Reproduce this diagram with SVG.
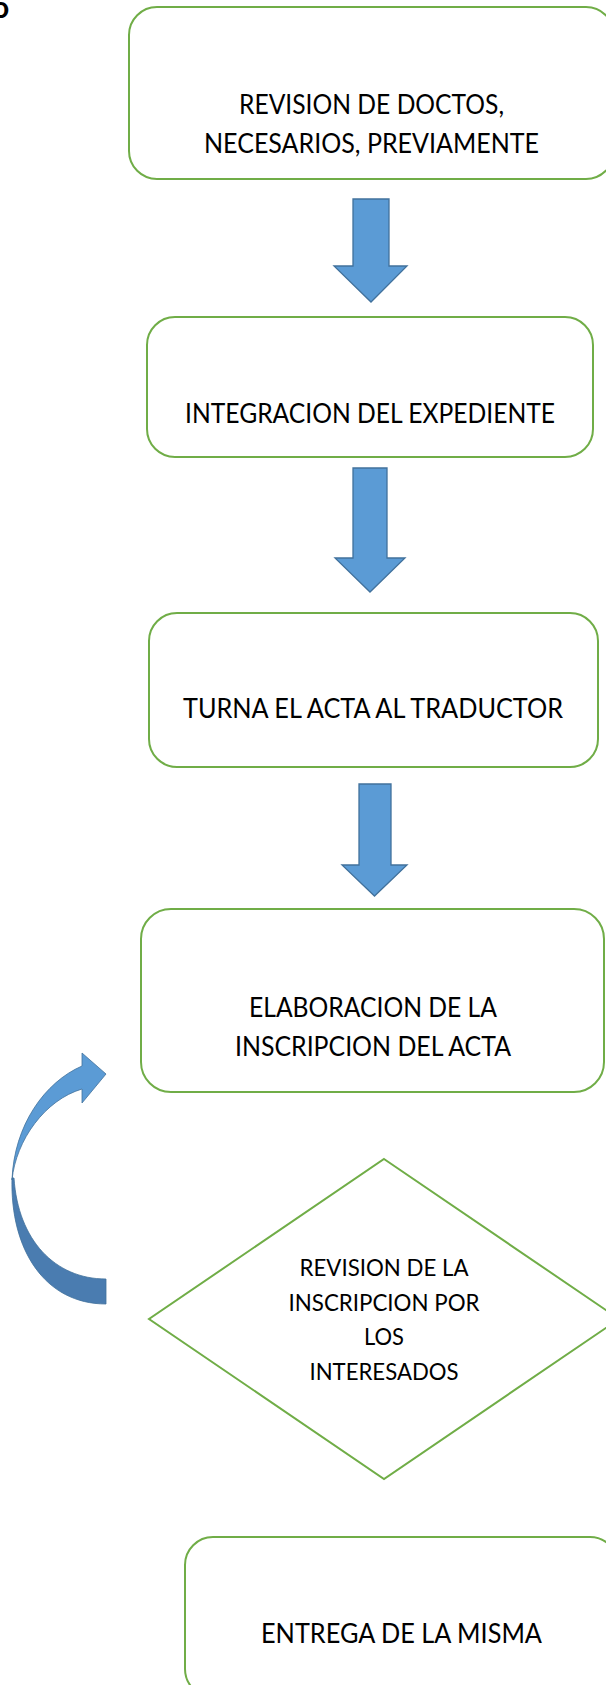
<svg xmlns="http://www.w3.org/2000/svg" width="606" height="1685" viewBox="0 0 606 1685">
<style>
.box{fill:#FFFFFF;stroke:#70AD47;stroke-width:2}
.t{font-family:Lato,"Open Sans",sans-serif;font-size:26px;fill:#000000;text-anchor:middle}
.ts{font-family:Lato,"Open Sans",sans-serif;font-size:23.5px;fill:#000000;text-anchor:middle}
.arr{fill:#5B9BD5;stroke:#41719C;stroke-width:1.3;stroke-linejoin:miter}
.carrUp{fill:#5B9BD5;stroke:#41719C;stroke-width:0.8}
.carrDn{fill:#4A7CB0;stroke:#41719C;stroke-width:0.8}
</style>
<rect width="606" height="1685" fill="#FFFFFF"/>
<text x="-8" y="18" font-family="Lato,sans-serif" font-weight="bold" font-size="30" fill="#000000">o</text>
<g id="n1">
<rect class="box" x="129" y="7" width="485" height="172" rx="28"/>
<text class="t" x="371.5" y="114" textLength="265" lengthAdjust="spacingAndGlyphs">REVISION DE DOCTOS,</text>
<text class="t" x="371.5" y="153" textLength="335" lengthAdjust="spacingAndGlyphs">NECESARIOS, PREVIAMENTE</text>
</g>
<g id="n2">
<rect class="box" x="147" y="317" width="446" height="140" rx="28"/>
<text class="t" x="370" y="423" textLength="370" lengthAdjust="spacingAndGlyphs">INTEGRACION DEL EXPEDIENTE</text>
</g>
<g id="n3">
<rect class="box" x="149" y="613" width="449" height="154" rx="28"/>
<text class="t" x="373" y="718" textLength="380" lengthAdjust="spacingAndGlyphs">TURNA EL ACTA AL TRADUCTOR</text>
</g>
<g id="n4">
<rect class="box" x="141" y="909" width="463" height="183" rx="30"/>
<text class="t" x="373" y="1017" textLength="248" lengthAdjust="spacingAndGlyphs">ELABORACION DE LA</text>
<text class="t" x="373" y="1056" textLength="276" lengthAdjust="spacingAndGlyphs">INSCRIPCION DEL ACTA</text>
</g>
<g id="n5">
<polygon class="box" points="384,1159 619,1319 384,1479 149,1319"/>
<text class="ts" x="384" y="1276" textLength="169" lengthAdjust="spacingAndGlyphs">REVISION DE LA</text>
<text class="ts" x="384" y="1311" textLength="191" lengthAdjust="spacingAndGlyphs">INSCRIPCION POR</text>
<text class="ts" x="384" y="1345" textLength="40" lengthAdjust="spacingAndGlyphs">LOS</text>
<text class="ts" x="384" y="1380" textLength="149" lengthAdjust="spacingAndGlyphs">INTERESADOS</text>
</g>
<g id="n6">
<rect class="box" x="185" y="1537" width="433" height="160" rx="28"/>
<text class="t" x="401.5" y="1643" textLength="281" lengthAdjust="spacingAndGlyphs">ENTREGA DE LA MISMA</text>
</g>
<g id="connectors">
<polygon class="arr" points="353,199 389,199 389,266 407,266 371,302 334,266 353,266"/>
<polygon class="arr" points="353,468 387,468 387,558 405,558 370,592 335,558 353,558"/>
<polygon class="arr" points="359,784 391,784 391,865 407,865 374.5,896 342,865 359,865"/>
<path class="carrDn" d="M12,1178 C10,1250 45,1304 106,1304 L106,1279 C55,1279 18,1240 14,1178 Z"/>
<path class="carrUp" d="M12,1180 C14,1125 45,1082 82,1066 L82,1053 L106,1074 L82,1103 L82,1089 C45,1100 16,1140 12,1180 Z"/>
</g>
</svg>
